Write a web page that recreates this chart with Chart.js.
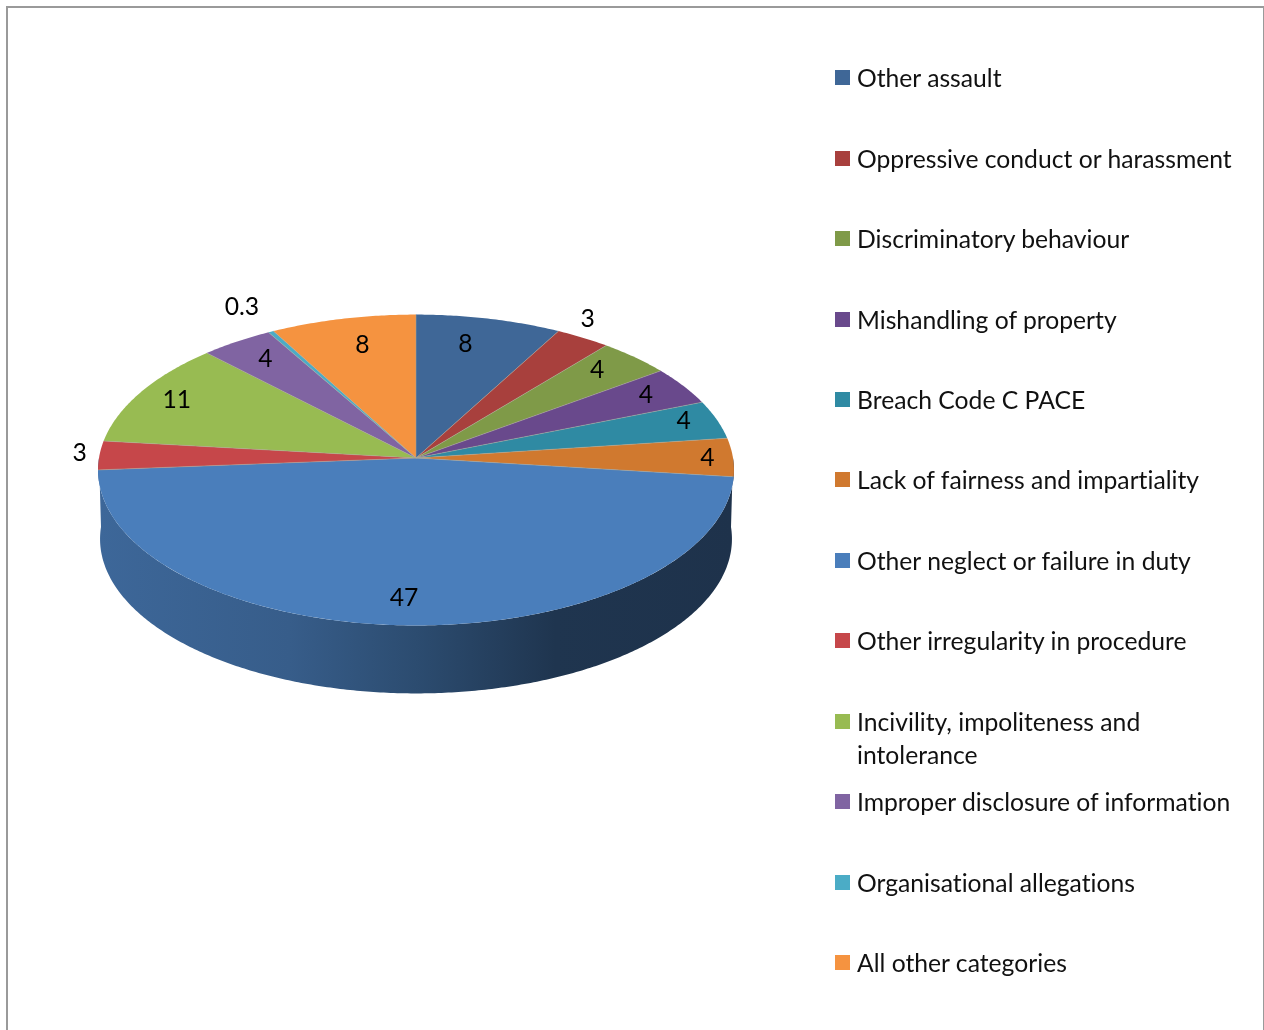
<!DOCTYPE html>
<html>
<head>
<meta charset="utf-8">
<title>Complaint allegations</title>
<script src="https://cdn.jsdelivr.net/npm/chart.js@4"></script>
<style>
    html, body { margin: 0; padding: 0; background: #fff; overflow: hidden; }
    #stage { position: relative; width: 1264px; height: 1030px; overflow: hidden; }
    #frame {
        position: absolute; left: 6px; top: 6px; width: 1255px; height: 1040px;
        border: 2px solid #9a9a9a;
    }
    #pie { position: absolute; left: 0; top: 0; }
    #legend {
        position: absolute; left: 835px; top: 37.2px; margin: 0; padding: 0; list-style: none;
        font: 24.7px/33px Lato, sans-serif; font-variant-ligatures: none; color: #111;
    }
    #legend li { position: relative; height: 80.45px; padding-left: 22px; width: 407px; box-sizing: border-box; padding-top: 24px; }
    #legend i { position: absolute; left: 0; top: 33px; width: 15px; height: 15px; }
</style>
</head>
<body>
<div id="stage">
    <div id="frame"></div>
    <canvas id="pie" width="1264" height="1030"></canvas>
    <ul id="legend"></ul>
</div>
<script>
const categories = [
    'Other assault',
    'Oppressive conduct or harassment',
    'Discriminatory behaviour',
    'Mishandling of property',
    'Breach Code C PACE',
    'Lack of fairness and impartiality',
    'Other neglect or failure in duty',
    'Other irregularity in procedure',
    'Incivility, impoliteness and intolerance',
    'Improper disclosure of information',
    'Organisational allegations',
    'All other categories'
];
const values = [8, 3, 4, 4, 4, 4, 47, 3, 11, 4, 0.3, 8];
const colors = [
    '#3f6797', '#a8403d', '#7f9a48', '#69498c', '#2f8aa3', '#d0792f',
    '#4a7ebb', '#c6474a', '#98bb52', '#8064a2', '#4bacc6', '#f59340'
];
// where each value label sits relative to its default spot inside the slice
const labelNudge = [
    [-9, -3], [38, -43], [6, -7], [16, -5], [27, -6], [38, 1],
    [-6, 6], [-83, -3], [-19, -5], [-7, -6], [-58, -50], [5, -2]
];

// disc tilt: vertical squash and perspective strength
const SQUASH = 154.5 / 317;
const PERSPECTIVE = 0.0774;
const WALL_DEPTH = 69;

function shade(hex, f) {
    const n = parseInt(hex.slice(1), 16);
    const c = [n >> 16, (n >> 8) & 255, n & 255].map(v => Math.round(v * f));
    return `rgb(${c[0]},${c[1]},${c[2]})`;
}

// maps an angle on the flat pie to a point on the tilted rim
function rimPoint(arc, angle, radius) {
    const w = 1 - PERSPECTIVE * Math.sin(angle);
    return {
        x: arc.x + radius * Math.cos(angle) / w,
        y: arc.y + radius * SQUASH * Math.sin(angle) / w
    };
}

function traceRim(ctx, arc, from, to, radius, dy) {
    const steps = Math.max(2, Math.ceil(Math.abs(to - from) / 0.01));
    for (let s = 0; s <= steps; s++) {
        const p = rimPoint(arc, from + (to - from) * s / steps, radius);
        ctx.lineTo(p.x, p.y + dy);
    }
}

const tiltedPie = {
    id: 'tiltedPie',
    // flat draw is skipped, the arcs' angles drive the tilted shapes instead
    beforeDatasetDraw(chart) {
        const ctx = chart.ctx;
        const arcs = chart.getDatasetMeta(0).data;
        const first = arcs[0];
        const r = first.outerRadius;

        // front wall takes the colour of the slice facing the viewer
        const front = arcs.findIndex(a => a.startAngle <= Math.PI / 2 && a.endAngle >= Math.PI / 2);
        const grad = ctx.createLinearGradient(first.x - r, 0, first.x + r, 0);
        grad.addColorStop(0, shade(colors[front], 0.82));
        grad.addColorStop(0.3, shade(colors[front], 0.74));
        grad.addColorStop(0.5, shade(colors[front], 0.6));
        grad.addColorStop(0.72, shade(colors[front], 0.42));
        grad.addColorStop(1, shade(colors[front], 0.4));
        ctx.beginPath();
        traceRim(ctx, first, 0, Math.PI, r, 0);
        traceRim(ctx, first, Math.PI, 0, r - 2, WALL_DEPTH);
        ctx.closePath();
        ctx.fillStyle = grad;
        ctx.fill();

        // top face
        arcs.forEach((arc, i) => {
            ctx.beginPath();
            ctx.moveTo(arc.x, arc.y);
            traceRim(ctx, arc, arc.startAngle, arc.endAngle, r, 0);
            ctx.closePath();
            ctx.fillStyle = colors[i];
            ctx.fill();
        });

        // thin separators along the slice edges, none on the rim
        ctx.strokeStyle = 'rgba(170,165,150,0.55)';
        ctx.lineWidth = 1;
        arcs.forEach(arc => {
            const p = rimPoint(arc, arc.startAngle, r);
            ctx.beginPath();
            ctx.moveTo(arc.x, arc.y);
            ctx.lineTo(p.x, p.y);
            ctx.stroke();
        });
        return false;
    },
    afterDatasetsDraw(chart) {
        const ctx = chart.ctx;
        const arcs = chart.getDatasetMeta(0).data;
        ctx.save();
        ctx.fillStyle = '#000';
        ctx.font = '24.7px Lato, sans-serif';
        ctx.textAlign = 'center';
        ctx.textBaseline = 'middle';
        arcs.forEach((arc, i) => {
            const mid = (arc.startAngle + arc.endAngle) / 2;
            const p = rimPoint(arc, mid, arc.outerRadius * 0.8);
            ctx.fillText(String(values[i]), p.x + labelNudge[i][0], p.y + labelNudge[i][1]);
        });
        ctx.restore();
    }
};

new Chart(document.getElementById('pie'), {
    type: 'pie',
    data: {
        labels: categories,
        datasets: [{
            data: values,
            backgroundColor: colors,
            borderWidth: 0
        }]
    },
    options: {
        responsive: false,
        animation: false,
        events: [],
        layout: { padding: { left: 99, right: 531, top: 141, bottom: 255 } },
        plugins: { legend: { display: false }, tooltip: { enabled: false } }
    },
    plugins: [tiltedPie]
});

// legend list next to the pie
const legendEl = document.getElementById('legend');
categories.forEach((name, i) => {
    const li = document.createElement('li');
    const box = document.createElement('i');
    box.style.background = colors[i];
    li.appendChild(box);
    li.appendChild(document.createTextNode(name));
    legendEl.appendChild(li);
});
</script>
</body>
</html>
